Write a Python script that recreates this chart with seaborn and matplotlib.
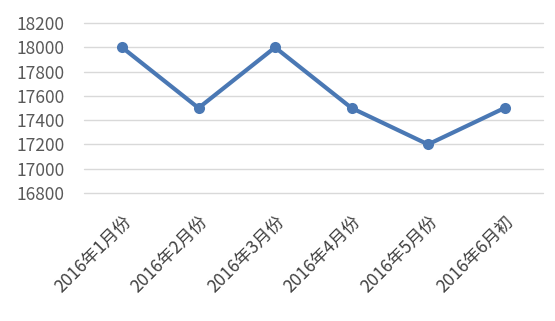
import matplotlib
matplotlib.use("Agg")
import matplotlib.pyplot as plt
import seaborn as sns
import pandas as pd

categories = ["2016年1月份", "2016年2月份", "2016年3月份", "2016年4月份", "2016年5月份", "2016年6月初"]
values = [18000, 17500, 18000, 17500, 17200, 17500]
yticks = [16800, 17000, 17200, 17400, 17600, 17800, 18000, 18200]

sns.set_theme(style="white")
plt.rcParams['font.family'] = ['Noto Sans CJK SC', 'DejaVu Sans']

df = pd.DataFrame({"month": categories, "price": values})

fig = plt.figure(figsize=(5.55, 3.21), dpi=100)
ax = fig.add_axes([0.151, 0.399, 0.827, 0.529])

sns.lineplot(data=df, x="month", y="price", ax=ax, color="#4a78b4", linewidth=3,
             marker="o", markersize=8, markeredgewidth=0, sort=False)

ax.set_ylim(16800, 18200)
ax.set_xlim(-0.5, 5.5)
ax.set_yticks(yticks)
ax.set_yticklabels([str(t) for t in yticks], fontsize=12.5, color="#595959")
ax.set_xticks(range(len(categories)))
ax.set_xticklabels(categories, rotation=45, ha="right", rotation_mode="anchor",
                   fontsize=12.5, color="#404040")
ax.tick_params(axis="x", pad=14, length=0)
ax.tick_params(axis="y", pad=14, length=0)
ax.grid(axis="y", color="#d9d9d9", linewidth=1)
ax.grid(axis="x", visible=False)
for g in ax.get_ygridlines():
    g.set_clip_on(False)
for s in ax.spines.values():
    s.set_visible(False)
ax.set_xlabel("")
ax.set_ylabel("")
ax.set_axisbelow(True)
for l in ax.lines:
    l.set_clip_on(False)

fig.savefig("out.png", dpi=100)
